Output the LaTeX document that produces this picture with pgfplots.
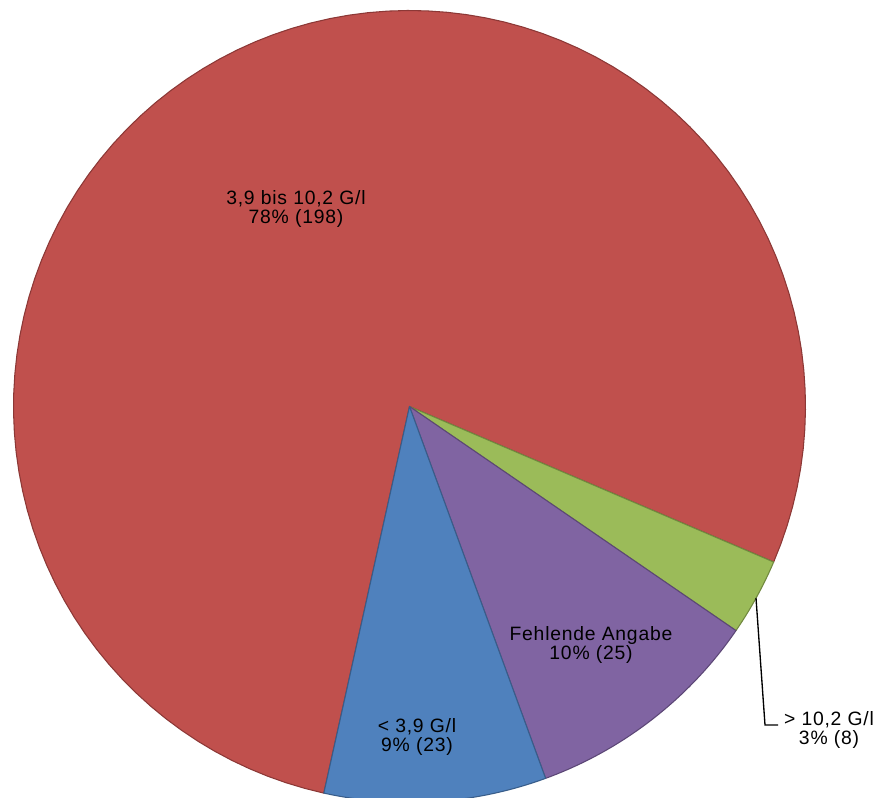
\documentclass[border=0pt]{standalone}
\usepackage{pgfplots}
\pgfplotsset{compat=1.18}
\usepackage{fontspec}
\setmainfont{Liberation Sans}
\definecolor{cRed}{HTML}{C0504D}
\definecolor{cRedD}{HTML}{8C3836}
\definecolor{cBlue}{HTML}{4F81BD}
\definecolor{cBlueD}{HTML}{385D8A}
\definecolor{cPurple}{HTML}{8064A2}
\definecolor{cPurpleD}{HTML}{5C4776}
\definecolor{cGreen}{HTML}{9BBB59}
\definecolor{cGreenD}{HTML}{71893F}
% data (counts)
\def\nRed{198}   % 3,9 bis 10,2 G/l
\def\nGreen{8}   % > 10,2 G/l
\def\nPurple{25} % Fehlende Angabe
\def\nBlue{23}   % < 3,9 G/l
\def\cx{409.5}
\def\cy{391.5}
\def\rr{396}
\pgfmathsetmacro\total{\nRed+\nGreen+\nPurple+\nBlue}
\pgfmathsetmacro\aA{257.5}
\pgfmathsetmacro\aB{\aA-\nRed/\total*360}
\pgfmathsetmacro\aC{\aB-\nGreen/\total*360}
\pgfmathsetmacro\aD{\aC-\nPurple/\total*360}
\pgfmathsetmacro\aE{\aD-\nBlue/\total*360}
\newcommand{\sector}[4]{%
  \addplot[fill=#3, draw=#4, line width=0.8pt, line join=round,
    domain=0:101, samples=102, variable=\t]
  ({(\t<0.5 || \t>100.5) ? \cx : \cx + \rr*cos((#1)+((#2)-(#1))*(\t-1)/99)},
   {(\t<0.5 || \t>100.5) ? \cy : \cy + \rr*sin((#1)+((#2)-(#1))*(\t-1)/99)}) -- cycle;
}
\tikzset{lbl/.style={align=center, inner sep=0pt,
  font=\fontsize{14.5}{14.5}\selectfont\addfontfeatures{LetterSpace=4}}}
\begin{document}
\begin{tikzpicture}
\begin{axis}[
  width=659.25pt, height=598.5pt, scale only axis,
  xmin=0, xmax=879, ymin=0, ymax=798,
  hide axis, clip=true,
]
\sector{\aA}{\aB}{cRed}{cRedD}
\sector{\aB}{\aC}{cGreen}{cGreenD}
\sector{\aC}{\aD}{cPurple}{cPurpleD}
\sector{\aD}{\aE}{cBlue}{cBlueD}
\addplot[black, line width=1pt, mark=none] coordinates {(756,200) (765,73) (778,73)};
\node[lbl] at (axis cs:296,589) {3,9 bis 10,2 G/l\\78\% (198)};
\node[lbl] at (axis cs:591,153) {Fehlende Angabe\\10\% (25)};
\node[lbl] at (axis cs:417,61) {< 3,9 G/l\\9\% (23)};
\node[lbl] at (axis cs:829,68) {> 10,2 G/l\\3\% (8)};
\end{axis}
\pgfresetboundingbox
\path (current axis.south west) rectangle (current axis.north east);
\end{tikzpicture}
\end{document}
